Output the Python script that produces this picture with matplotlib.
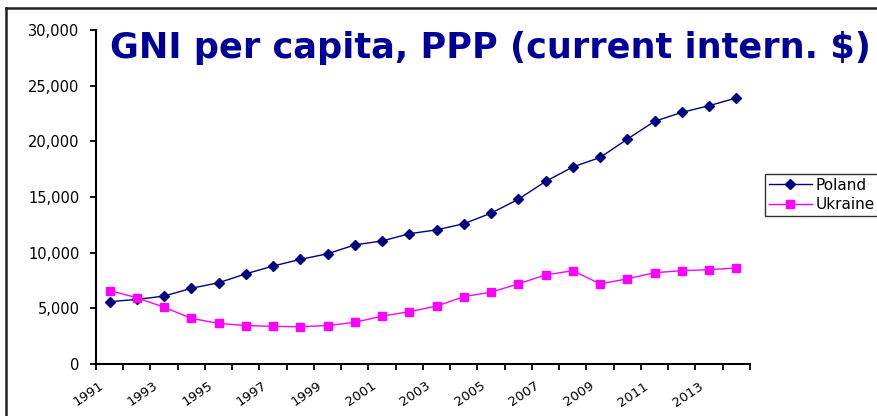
import matplotlib.pyplot as plt
from matplotlib.lines import Line2D
from matplotlib.ticker import FuncFormatter

# GNI per capita, PPP (current international $)
years = list(range(1991, 2015))
poland = [5600, 5800, 6100, 6800, 7300, 8100, 8800, 9400, 9900, 10700, 11050, 11700,
          12050, 12600, 13550, 14800, 16400, 17700, 18550, 20200, 21800, 22600, 23200, 23900]
ukraine = [6600, 5950, 5100, 4100, 3650, 3450, 3380, 3350, 3450, 3750, 4300, 4700,
           5200, 6050, 6450, 7200, 8000, 8380, 7200, 7650, 8200, 8380, 8470, 8630]
year_labels = [str(y) for y in years]

# the original chart text is wide, DejaVu Sans gets closest in size
plt.rcParams['font.family'] = ['DejaVu Sans']

fig = plt.figure(figsize=(8.78, 4.16), dpi=100)
ax = fig.add_axes([96 / 878, 1 - 364 / 416, (750 - 96) / 878, (364 - 30) / 416])

x = list(range(len(years)))
ax.plot(x, poland, color='#000080', lw=1.0, marker='D', markersize=5.5, label='Poland')
ax.plot(x, ukraine, color='#FF00FF', lw=1.0, marker='s', markersize=6, label='Ukraine')

ax.set_xlim(-0.5, len(years) - 0.5)
ax.set_ylim(0, 30000)
ax.set_yticks(range(0, 30001, 5000))
ax.yaxis.set_major_formatter(FuncFormatter(lambda v, p: f"{int(v):,}"))

# labels at every other category, tick marks on the category borders
ax.set_xticks([i - 0.4 for i in x[::2]])
ax.set_xticklabels(year_labels[::2], rotation=34, ha='right', rotation_mode='anchor')
ax.set_xticks([i - 0.5 for i in range(len(years) + 1)], minor=True)
ax.tick_params(axis='x', which='major', length=0, pad=11, labelsize=9.5)
ax.tick_params(axis='x', which='minor', length=4.5, width=1.3, direction='out')
ax.tick_params(axis='y', length=4.5, width=1.3, labelsize=10.5, pad=7.5)

for s in ['top', 'right']:
    ax.spines[s].set_visible(False)
for s in ['left', 'bottom']:
    ax.spines[s].set_linewidth(1.5)

fig.text(110 / 878, 1 - 58 / 416, 'GNI per capita, PPP (current intern. $)',
         fontsize=25.3, fontweight='bold', color='#000099', va='baseline')

leg = fig.legend(loc='upper left', bbox_to_anchor=(765 / 878, 1 - 174 / 416),
                 fontsize=11, frameon=True, fancybox=False, handlelength=2.8,
                 borderpad=0.25, labelspacing=0.3, handletextpad=0.25, borderaxespad=0)
leg.get_frame().set_edgecolor('black')
leg.get_frame().set_linewidth(1.0)

# outer frame of the chart area (left and top edges visible)
fig.add_artist(Line2D([6.5 / 878, 6.5 / 878], [0, 1 - 8 / 416], color='#222222', lw=1.8,
                      transform=fig.transFigure))
fig.add_artist(Line2D([6.5 / 878, 1], [1 - 8 / 416, 1 - 8 / 416], color='#222222', lw=1.8,
                      transform=fig.transFigure))

fig.savefig('out.png', dpi=100)
